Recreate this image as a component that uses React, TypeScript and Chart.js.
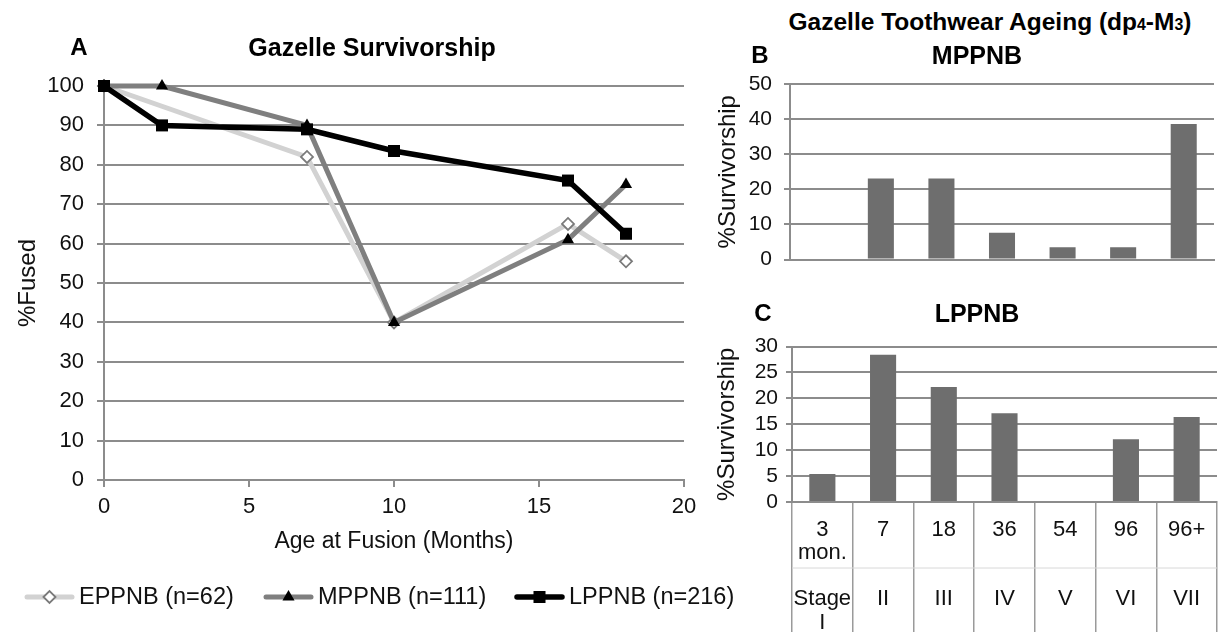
import React, { useEffect, useRef } from 'react';
import { Chart, registerables } from 'chart.js';
import { drawPoint } from 'chart.js/helpers';

Chart.register(...registerables);

const FONT = '"Liberation Sans", Arial, Helvetica, sans-serif';

// ---------- Panel A: Gazelle Survivorship (fusion) ----------
const eppnbAge = [0, 7, 10, 16, 18];
const eppnbFused = [100, 82, 40, 65, 55.5];
const mppnbAge = [0, 2, 7, 10, 16, 18];
const mppnbFused = [100, 100, 90, 40, 61, 75];
const lppnbAge = [0, 2, 7, 10, 16, 18];
const lppnbFused = [100, 90, 89, 83.5, 76, 62.5];
const seriesNames = ['EPPNB (n=62)', 'MPPNB (n=111)', 'LPPNB (n=216)'];
const xTicksA = [0, 5, 10, 15, 20];

// ---------- Panels B & C: Toothwear ageing ----------
const ageRow1 = ['3', '7', '18', '36', '54', '96', '96+'];
const ageRow2 = ['mon.', '', '', '', '', '', ''];
const stageRow1 = ['Stage', 'II', 'III', 'IV', 'V', 'VI', 'VII'];
const stageRow2 = ['I', '', '', '', '', '', ''];
const mppnbSurv = [0, 23.1, 23.1, 7.6, 3.5, 3.5, 38.6];
const lppnbSurv = [5.4, 28.4, 22.2, 17.1, 0, 12.1, 16.4];

const GRID = '#8c8c8c';
const TXT = '#111';

const lineLegend = {
  id: 'lineLegend',
  afterDraw(chart: any, _args: any, opts: any) {
    const ctx = chart.ctx;
    chart.data.datasets.forEach((ds: any, i: number) => {
      const x0 = opts.x[i];
      const y = opts.y;
      const len = opts.lineLen;
      ctx.save();
      ctx.strokeStyle = ds.borderColor;
      ctx.lineWidth = ds.borderWidth;
      ctx.lineCap = 'round';
      ctx.beginPath();
      ctx.moveTo(x0, y);
      ctx.lineTo(x0 + len, y);
      ctx.stroke();
      ctx.fillStyle = ds.pointBackgroundColor;
      ctx.strokeStyle = ds.pointBorderColor;
      ctx.lineWidth = ds.pointBorderWidth;
      drawPoint(ctx, { pointStyle: ds.pointStyle, radius: ds.pointRadius, borderWidth: ds.pointBorderWidth, rotation: 0 } as any, x0 + len / 2, y);
      ctx.fillStyle = TXT;
      ctx.font = `${opts.fontSize}px ${FONT}`;
      ctx.textBaseline = 'middle';
      ctx.textAlign = 'left';
      ctx.fillText(ds.label, x0 + len + opts.gap, y + 1);
      ctx.restore();
    });
  },
};

const tableDivider = {
  id: 'tableDivider',
  afterDraw(chart: any, _args: any, opts: any) {
    if (!opts || !opts.display) return;
    const { ctx, chartArea } = chart;
    ctx.save();
    ctx.strokeStyle = opts.color;
    ctx.lineWidth = 1;
    ctx.beginPath();
    ctx.moveTo(chartArea.left, chartArea.bottom + opts.offset);
    ctx.lineTo(chartArea.right, chartArea.bottom + opts.offset);
    ctx.stroke();
    ctx.restore();
  },
};

function toPoints(xs: number[], ys: number[]) {
  return xs.map((x, i) => ({ x, y: ys[i] }));
}

function SurvivorshipChart() {
  const ref = useRef<HTMLCanvasElement>(null);
  useEffect(() => {
    const chart = new Chart(ref.current!, {
      type: 'line',
      data: {
        datasets: [
          {
            label: seriesNames[0],
            data: toPoints(eppnbAge, eppnbFused),
            borderColor: '#d2d2d2',
            borderWidth: 5,
            pointStyle: 'rectRot',
            pointRadius: 6,
            pointBackgroundColor: '#ffffff',
            pointBorderColor: '#7a7a7a',
            pointBorderWidth: 1.8,
            tension: 0,
            clip: false,
            order: 3,
          },
          {
            label: seriesNames[1],
            data: toPoints(mppnbAge, mppnbFused),
            borderColor: '#7f7f7f',
            borderWidth: 5,
            pointStyle: 'triangle',
            pointRadius: 7,
            pointBackgroundColor: '#000000',
            pointBorderColor: '#000000',
            pointBorderWidth: 0,
            tension: 0,
            clip: false,
            order: 2,
          },
          {
            label: seriesNames[2],
            data: toPoints(lppnbAge, lppnbFused),
            borderColor: '#000000',
            borderWidth: 5.5,
            pointStyle: 'rect',
            pointRadius: 8.5,
            pointBackgroundColor: '#000000',
            pointBorderColor: '#000000',
            pointBorderWidth: 0,
            tension: 0,
            clip: false,
            order: 1,
          },
        ] as any,
      },
      options: {
        responsive: false,
        animation: false,
        layout: { padding: { left: 0, top: 86, right: 76, bottom: 74 } },
        plugins: {
          legend: { display: false },
          tooltip: { enabled: false },
          lineLegend: { x: [27, 266, 517], y: 597, lineLen: 45, gap: 7, fontSize: 23.5 },
        } as any,
        scales: {
          x: {
            type: 'linear',
            min: 0,
            max: 20,
            afterBuildTicks: (s: any) => { s.ticks = xTicksA.map((v) => ({ value: v })); },
            ticks: { font: { size: 22, family: FONT }, color: TXT, padding: 7 },
            grid: { drawOnChartArea: false, drawTicks: true, tickLength: 7, color: GRID, lineWidth: 2 },
            border: { color: GRID, width: 2 },
            title: { display: true, text: 'Age at Fusion (Months)', font: { size: 23, family: FONT }, color: TXT, padding: { top: 4, bottom: 3 } },
            afterFit: (s: any) => { s.height = 78; },
          },
          y: {
            min: 0,
            max: 100,
            ticks: { stepSize: 10, autoSkip: false, font: { size: 22, family: FONT }, color: TXT, padding: 13 },
            grid: { color: GRID, lineWidth: 2, tickLength: 7 },
            border: { color: GRID, width: 2 },
            title: { display: true, text: '%Fused', font: { size: 24, family: FONT }, color: TXT, padding: { top: 14, bottom: 0 } },
            afterFit: (s: any) => { s.width = 104; },
          },
        } as any,
      },
      plugins: [lineLegend],
    });
    return () => chart.destroy();
  }, []);
  return <canvas ref={ref} width={760} height={632} style={{ position: 'absolute', left: 0, top: 0 }} />;
}

function BarPanel(props: { values: number[]; max: number; step: number; showLabels: boolean; left: number; top: number; width: number; height: number; padTop: number; padRight: number; axisW: number; axisH: number; tickPad: number; titlePad: number }) {
  const ref = useRef<HTMLCanvasElement>(null);
  useEffect(() => {
    const labels = ageRow1.map((a, i) => [a, ageRow2[i], '', stageRow1[i], stageRow2[i]]);
    const chart = new Chart(ref.current!, {
      type: 'bar',
      data: {
        labels,
        datasets: [
          {
            data: props.values,
            backgroundColor: '#6e6e6e',
            borderWidth: 0,
            barPercentage: 0.43,
            categoryPercentage: 1,
          },
        ],
      },
      options: {
        responsive: false,
        animation: false,
        layout: { padding: { left: 0, top: props.padTop, right: props.padRight, bottom: 0 } },
        plugins: {
          legend: { display: false },
          tooltip: { enabled: false },
          tableDivider: { display: props.showLabels, offset: 66, color: '#d8d8d8' },
        } as any,
        scales: {
          x: {
            ticks: props.showLabels
              ? { display: true, autoSkip: false, maxRotation: 0, font: { size: 22, family: FONT, lineHeight: 1.05 }, color: TXT, padding: -113.5 }
              : { display: false },
            grid: props.showLabels
              ? { offset: true, drawOnChartArea: false, drawTicks: true, tickLength: 130, color: '#9a9a9a', lineWidth: 1.5 }
              : { display: false },
            border: { display: true, color: GRID, width: 2 },
            afterFit: (s: any) => { s.height = props.axisH; },
          },
          y: {
            min: 0,
            max: props.max,
            ticks: { stepSize: props.step, autoSkip: false, font: { size: 21, family: FONT, lineHeight: 1 }, color: TXT, padding: props.tickPad },
            grid: { color: GRID, lineWidth: 2, tickLength: 6 },
            border: { color: GRID, width: 2 },
            title: { display: true, text: '%Survivorship', font: { size: 24, family: FONT }, color: TXT, padding: { top: props.titlePad, bottom: 0 } },
            afterFit: (s: any) => { s.width = props.axisW; },
          },
        } as any,
      },
      plugins: [tableDivider],
    });
    return () => chart.destroy();
  }, []);
  return <canvas ref={ref} width={props.width} height={props.height} style={{ position: 'absolute', left: props.left, top: props.top }} />;
}

function Label(props: { x: number; y: number; size: number; children: React.ReactNode }) {
  return (
    <div
      style={{
        position: 'absolute',
        left: props.x,
        top: props.y,
        transform: 'translate(-50%, -50%)',
        fontFamily: FONT,
        fontWeight: 'bold',
        fontSize: props.size,
        lineHeight: 1,
        whiteSpace: 'nowrap',
        color: '#000',
      }}
    >
      {props.children}
    </div>
  );
}

export default function App() {
  useEffect(() => {
    document.body.style.margin = '0';
    document.body.style.background = '#fff';
  }, []);
  return (
    <div style={{ position: 'absolute', left: 0, top: 0, width: 1230, height: 632, background: '#fff', overflow: 'hidden' }}>
      <SurvivorshipChart />
      <BarPanel values={mppnbSurv} max={50} step={10} showLabels={false} left={700} top={60} width={530} height={222} padTop={24} padRight={16} axisW={90} axisH={20} tickPad={12} titlePad={14} />
      <BarPanel values={lppnbSurv} max={30} step={5} showLabels={true} left={700} top={328} width={530} height={304} padTop={14} padRight={13} axisW={92} axisH={130} tickPad={8} titlePad={13} />
      <Label x={79} y={47} size={24}>A</Label>
      <Label x={372} y={47} size={25}>Gazelle Survivorship</Label>
      <Label x={990} y={22} size={24.5}>
        Gazelle Toothwear Ageing (dp<span style={{ fontSize: '0.65em' }}>4</span>-M<span style={{ fontSize: '0.65em' }}>3</span>)
      </Label>
      <Label x={760} y={55} size={24}>B</Label>
      <Label x={977} y={55} size={25}>MPPNB</Label>
      <Label x={763} y={313} size={24}>C</Label>
      <Label x={977} y={313} size={25}>LPPNB</Label>
    </div>
  );
}
